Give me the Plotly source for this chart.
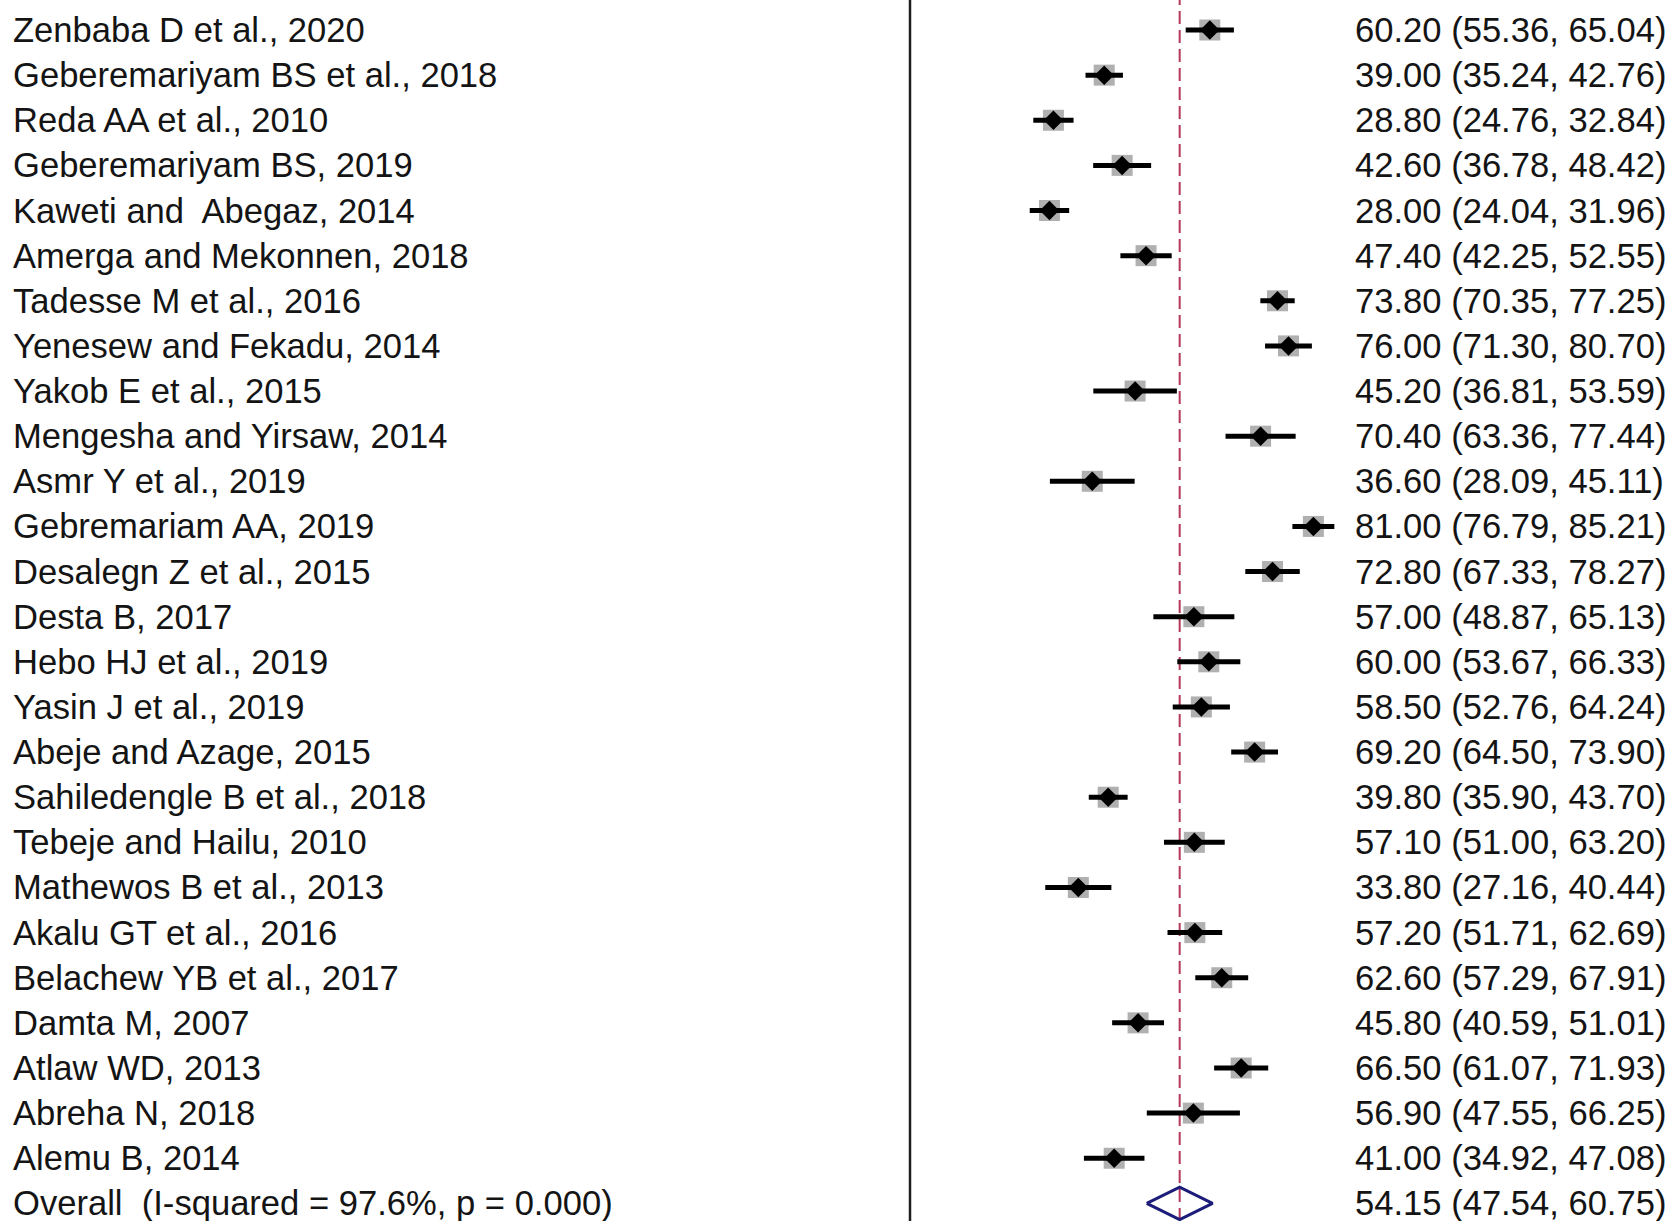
import plotly.graph_objects as go

# ---------------- data ----------------
studies = [
    "Zenbaba D et al., 2020",
    "Geberemariyam BS et al., 2018",
    "Reda AA et al., 2010",
    "Geberemariyam BS, 2019",
    "Kaweti and\u00a0 Abegaz, 2014",
    "Amerga and Mekonnen, 2018",
    "Tadesse M et al., 2016",
    "Yenesew and Fekadu, 2014",
    "Yakob E et al., 2015",
    "Mengesha and Yirsaw, 2014",
    "Asmr Y et al., 2019",
    "Gebremariam AA, 2019",
    "Desalegn Z et al., 2015",
    "Desta B, 2017",
    "Hebo HJ et al., 2019",
    "Yasin J et al., 2019",
    "Abeje and Azage, 2015",
    "Sahiledengle B et al., 2018",
    "Tebeje and Hailu, 2010",
    "Mathewos B et al., 2013",
    "Akalu GT et al., 2016",
    "Belachew YB et al., 2017",
    "Damta M, 2007",
    "Atlaw WD, 2013",
    "Abreha N, 2018",
    "Alemu B, 2014",
]
estimates = [60.20, 39.00, 28.80, 42.60, 28.00, 47.40, 73.80, 76.00, 45.20, 70.40,
             36.60, 81.00, 72.80, 57.00, 60.00, 58.50, 69.20, 39.80, 57.10, 33.80,
             57.20, 62.60, 45.80, 66.50, 56.90, 41.00]
lower = [55.36, 35.24, 24.76, 36.78, 24.04, 42.25, 70.35, 71.30, 36.81, 63.36,
         28.09, 76.79, 67.33, 48.87, 53.67, 52.76, 64.50, 35.90, 51.00, 27.16,
         51.71, 57.29, 40.59, 61.07, 47.55, 34.92]
upper = [65.04, 42.76, 32.84, 48.42, 31.96, 52.55, 77.25, 80.70, 53.59, 77.44,
         45.11, 85.21, 78.27, 65.13, 66.33, 64.24, 73.90, 43.70, 63.20, 40.44,
         62.69, 67.91, 51.01, 71.93, 66.25, 47.08]
overall_label = "Overall\u00a0 (I-squared = 97.6%, p = 0.000)"
overall_est = 54.15
overall_lo = 47.54
overall_hi = 60.75

# ---------------- layout constants ----------------
W, H = 1671, 1221
PX_PER_UNIT = 4.98
X0_PX = 910.0          # pixel position of value 0
ROW0_PX = 30.0         # pixel centre of first row
ROW_PX = 45.13         # row spacing
LABEL_X_PX = 11.0
VALUE_X_PX = 1353.0
LABEL_FONT = dict(family="Liberation Sans, Arial, sans-serif", size=34.6, color="#141414")
VALUE_FONT = dict(family="Liberation Sans, Arial, sans-serif", size=34.6, color="#141414")

n = len(studies)
rows = list(range(n))
overall_row = n

x_range = [-X0_PX / PX_PER_UNIT, (W - X0_PX) / PX_PER_UNIT]
y_range = [(H - ROW0_PX) / ROW_PX, -ROW0_PX / ROW_PX]

fig = go.Figure()

# weight boxes
fig.add_trace(go.Scatter(
    x=estimates, y=rows, mode="markers",
    marker=dict(symbol="square", size=21, color="#b0b0b0", line=dict(width=0)),
    hoverinfo="skip", showlegend=False))

# confidence intervals + point estimates
fig.add_trace(go.Scatter(
    x=estimates, y=rows, mode="markers",
    marker=dict(symbol="diamond", size=15, color="black", line=dict(width=0)),
    error_x=dict(type="data", symmetric=False,
                 array=[u - e for u, e in zip(upper, estimates)],
                 arrayminus=[e - l for e, l in zip(estimates, lower)],
                 color="black", thickness=5, width=0),
    showlegend=False))

# overall diamond
dh = 0.36
fig.add_trace(go.Scatter(
    x=[overall_lo, overall_est, overall_hi, overall_est, overall_lo],
    y=[overall_row, overall_row - dh, overall_row, overall_row + dh, overall_row],
    mode="lines", line=dict(color="#1c1c7a", width=3),
    hoverinfo="skip", showlegend=False))

shapes = [
    dict(type="line", xref="x", yref="paper", x0=0, x1=0, y0=0, y1=1,
         line=dict(color="#1e1e1e", width=2.5), layer="below"),
    dict(type="line", xref="x", yref="paper", x0=overall_est, x1=overall_est, y0=0, y1=1,
         line=dict(color="#b3385a", width=2, dash="13px,6px"), layer="below"),
]

annotations = []
all_labels = studies + [overall_label]
all_vals = [f"{e:.2f} ({l:.2f}, {u:.2f})" for e, l, u in zip(estimates, lower, upper)]
all_vals.append(f"{overall_est:.2f} ({overall_lo:.2f}, {overall_hi:.2f})")
for i, (lab, val) in enumerate(zip(all_labels, all_vals)):
    annotations.append(dict(text=lab, xref="paper", yref="y", x=LABEL_X_PX / W, y=i,
                            xanchor="left", yanchor="middle", showarrow=False, font=LABEL_FONT))
    annotations.append(dict(text=val, xref="paper", yref="y", x=VALUE_X_PX / W, y=i,
                            xanchor="left", yanchor="middle", showarrow=False, font=VALUE_FONT))

fig.update_layout(
    width=W, height=H,
    margin=dict(l=0, r=0, t=0, b=0, pad=0),
    paper_bgcolor="white", plot_bgcolor="white",
    xaxis=dict(range=x_range, visible=False, showgrid=False, zeroline=False, fixedrange=True),
    yaxis=dict(range=y_range, visible=False, showgrid=False, zeroline=False, fixedrange=True),
    shapes=shapes, annotations=annotations, showlegend=False,
)

fig.write_html(
    "out.html",
    config={"displayModeBar": False},
    post_script="document.body.style.margin='0';document.body.style.overflow='hidden';",
)
